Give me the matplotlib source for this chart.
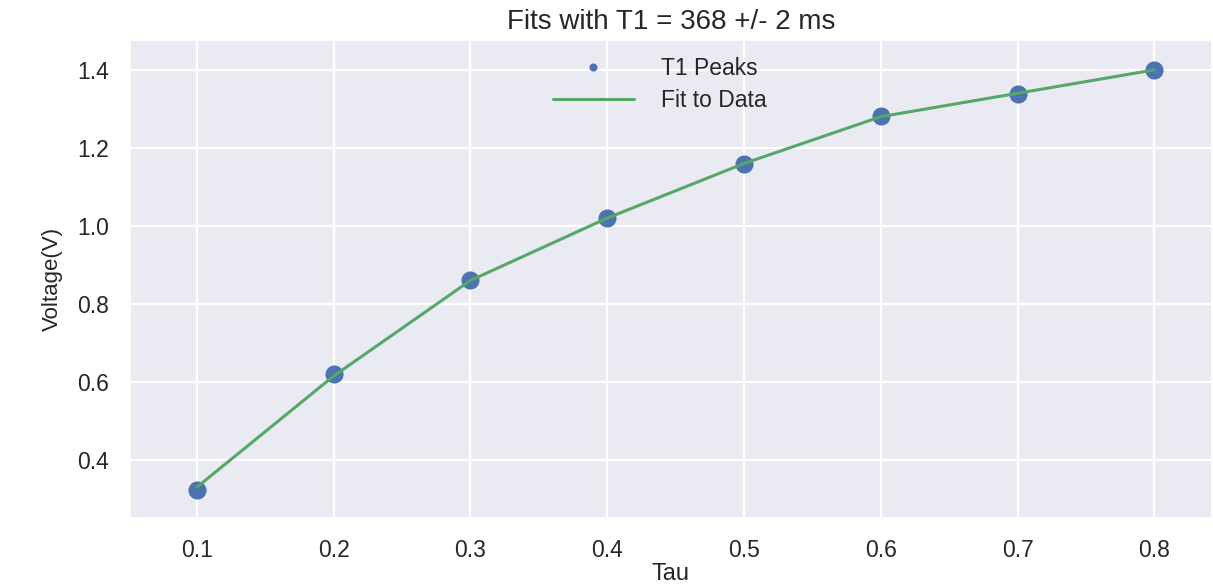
import numpy as np
import matplotlib
matplotlib.use('Agg')
import matplotlib.pyplot as plt
import seaborn as sns

tau = [0.1, 0.2, 0.3, 0.4, 0.5, 0.6, 0.7, 0.8]
peaks = [0.323, 0.621, 0.862, 1.021, 1.159, 1.282, 1.338, 1.400]
fit = [0.330, 0.615, 0.860, 1.020, 1.160, 1.280, 1.340, 1.400]

sns.set_theme(style='darkgrid')
plt.rcParams['font.family'] = ['Liberation Sans', 'DejaVu Sans']
plt.rcParams['grid.linewidth'] = 1.6

fig = plt.figure(figsize=(12.13, 5.86), dpi=100)
ax = fig.add_axes([0.107, 0.116, 0.892, 0.816])

ax.plot(tau, peaks, 'o', color='#4C72B0', markersize=12, label='T1 Peaks')
ax.plot(tau, fit, '-', color='#55A868', linewidth=2.2, label='Fit to Data')

ax.set_xlim(0.051, 0.842)
ax.set_ylim(0.251, 1.477)
ax.set_xticks(tau)
ax.set_yticks([0.4, 0.6, 0.8, 1.0, 1.2, 1.4])
ax.tick_params(labelsize=16.5, pad=9)

ax.set_title('Fits with T1 = 368 +/- 2 ms', fontsize=20, pad=8)
ax.set_xlabel('Tau', fontsize=17, labelpad=1)
ax.set_ylabel('Voltage(V)', fontsize=16, labelpad=10)

ax.legend(loc='upper center', frameon=False, fontsize=16.5, markerscale=0.4,
          borderaxespad=0.35, handlelength=3.5, handletextpad=1.2,
          labelspacing=0.4, bbox_to_anchor=(0.49, 1.0))

fig.savefig('out.png', dpi=100)
